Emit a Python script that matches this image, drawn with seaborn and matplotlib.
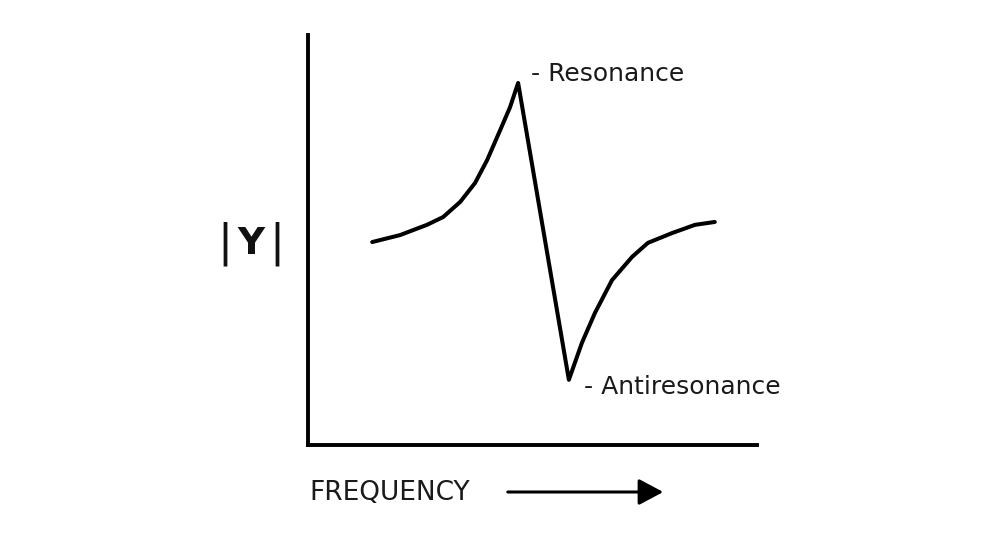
import matplotlib
matplotlib.use("Agg")
import matplotlib.pyplot as plt
import seaborn as sns
import pandas as pd

# -------------------- Data (arbitrary units) --------------------
frequency = [14.3, 20.5, 26.5, 30.1, 33.9, 37.2, 39.9, 42.8, 45.0, 46.8,
             58.1, 61.0, 63.9, 67.7, 72.2, 75.7, 81.1, 86.2, 90.6]
admittance = [49.5, 51.2, 53.7, 55.6, 59.3, 63.9, 69.5, 76.8, 82.4, 88.3,
              15.9, 24.9, 32.2, 40.2, 45.9, 49.3, 51.7, 53.7, 54.4]

labels = ["- Resonance", "- Antiresonance"]
label_pos = [(49.7, 90.5), (61.5, 14.2)]

df = pd.DataFrame({"frequency": frequency, "admittance": admittance})

# -------------------- Plot --------------------
sns.set_style("white")
plt.rcParams["font.family"] = ["DejaVu Sans"]

fig = plt.figure(figsize=(9.98, 5.53), dpi=100)
ax = fig.add_axes([308 / 998, 1 - 445 / 553, 449 / 998, 410 / 553])

sns.lineplot(data=df, x="frequency", y="admittance", sort=False,
             color="black", linewidth=2.9, ax=ax)
ax.lines[0].set_solid_joinstyle("round")

ax.set_xlim(0, 100)
ax.set_ylim(0, 100)
ax.set_xticks([])
ax.set_yticks([])
ax.set_xlabel("")
ax.set_ylabel("")
sns.despine(ax=ax)
for side in ["left", "bottom"]:
    ax.spines[side].set_linewidth(2.8)
    ax.spines[side].set_color("black")

for text, (x, y) in zip(labels, label_pos):
    ax.text(x, y, text, fontsize=18, va="center", ha="left", color="#1a1a1a")

# |Y| label: thin bars, bold Y
ylab_y = 1 - 244 / 553
fig.text(225 / 998, ylab_y, "|", fontsize=32, ha="center", va="center", color="#111111")
fig.text(251 / 998, ylab_y, "Y", fontsize=27, fontweight="bold",
         ha="center", va="center", color="#111111")
fig.text(277 / 998, ylab_y, "|", fontsize=32, ha="center", va="center", color="#111111")

fig.text(309 / 998, 1 - 493 / 553, "FREQUENCY", fontsize=19,
         ha="left", va="center", color="#1a1a1a")
fig.add_artist(matplotlib.patches.FancyArrowPatch(
    (505 / 998, 1 - 492 / 553), (666 / 998, 1 - 492 / 553),
    transform=fig.transFigure, arrowstyle="-|>,head_length=0.6,head_width=0.32",
    mutation_scale=25, linewidth=2.2, color="black"))

fig.savefig("out.png", dpi=100)
plt.close(fig)
